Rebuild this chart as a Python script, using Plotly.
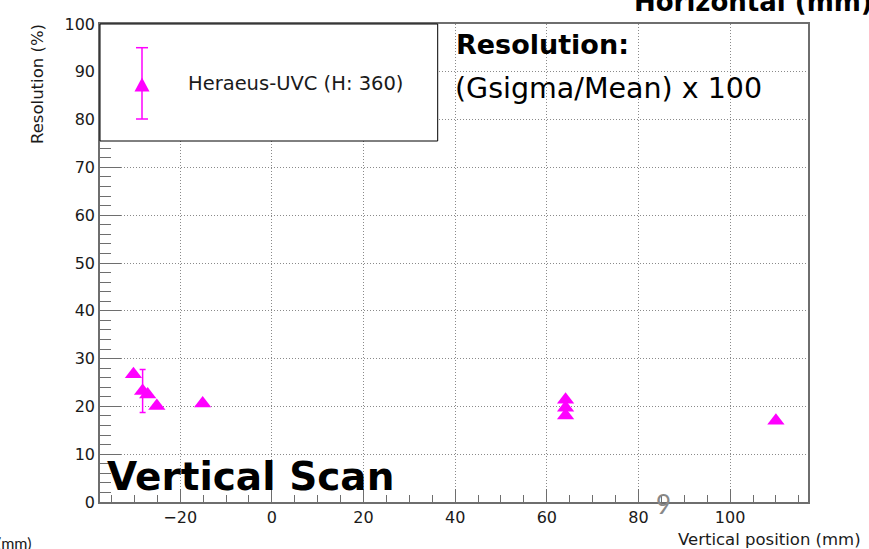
import plotly.graph_objects as go

# ---- data ----
vertical_position_mm = [-30.2, -28.2, -27.1, -25.1, -15.1, 64.1, 64.1, 64.1, 110.0]
resolution_pct = [26.7, 23.2, 22.5, 20.1, 20.6, 21.4, 19.7, 18.1, 17.0]
resolution_err = [0.0, 4.5, 0.0, 0.0, 0.0, 0.0, 0.0, 0.0, 0.0]
series_name = "Heraeus-UVC (H: 360)"
x_range = [-37.5, 117.0]
y_range = [0, 100]

W, H = 869, 549
L, R, T, B = 100, 61, 24, 47
PW, PH = W - L - R, H - T - B

def px(x):
    return (x - L) / PW

def py(y):
    return (H - B - y) / PH

MAG = "#ff00ff"
AX = "#6e6e6e"
TXT = "#1a1a1a"

fig = go.Figure()
fig.add_trace(go.Scatter(
    x=vertical_position_mm, y=resolution_pct, mode="markers", name=series_name,
    marker=dict(symbol="triangle-up", size=15, color=MAG, line=dict(width=0)),
    error_y=dict(type="data", array=resolution_err, visible=True, color=MAG,
                 thickness=1.5, width=3),
    showlegend=False,
))

axis_common = dict(
    showline=True, linecolor=AX, linewidth=1.6, mirror=True,
    ticks="inside", tickcolor=AX, tickwidth=1.4,
    showgrid=True, gridcolor="#8a8a8a", griddash="1px,2px", gridwidth=1,
    zeroline=False, tickfont=dict(family="DejaVu Sans", size=16, color=TXT),
)
fig.update_xaxes(range=x_range, dtick=20, tick0=0, ticklen=13,
                 minor=dict(dtick=5, tick0=0, ticklen=7, ticks="inside",
                            tickcolor=AX, showgrid=False),
                 **axis_common)
fig.update_yaxes(range=y_range, dtick=10, tick0=0, ticklen=21,
                 minor=dict(dtick=2, tick0=0, ticklen=11, ticks="inside",
                            tickcolor=AX, showgrid=False),
                 **axis_common)

shapes = []
# legend box
shapes.append(dict(type="rect", xref="paper", yref="paper", layer="above",
                   x0=px(100), x1=px(437.7), y0=py(141), y1=py(24),
                   fillcolor="white", line=dict(color="black", width=1)))
# legend marker error bar
lx, ltop, lbot = 142, 47.7, 119
shapes.append(dict(type="line", xref="paper", yref="paper", layer="above",
                   x0=px(lx), x1=px(lx), y0=py(lbot), y1=py(ltop),
                   line=dict(color=MAG, width=1.5)))
for yy in (ltop, lbot):
    shapes.append(dict(type="line", xref="paper", yref="paper", layer="above",
                       x0=px(lx - 6), x1=px(lx + 6), y0=py(yy), y1=py(yy),
                       line=dict(color=MAG, width=1.5)))
# legend marker triangle
cy = 85
tri = "M {a},{b} L {c},{b} L {d},{e} Z".format(
    a=px(lx - 7.5), c=px(lx + 7.5), b=py(cy + 6.5), d=px(lx), e=py(cy - 7.5))
shapes.append(dict(type="path", xref="paper", yref="paper", layer="above",
                   path=tri, fillcolor=MAG, line=dict(color=MAG, width=0)))
fig.update_layout(shapes=shapes)

ann = []
def add_text(text, x, y, xanchor, size, family="DejaVu Sans", color=TXT,
             bold=False, angle=0, yanchor="middle"):
    t = "<b>" + text + "</b>" if bold else text
    ann.append(dict(text=t, x=px(x), y=py(y), xref="paper", yref="paper",
                    xanchor=xanchor, yanchor=yanchor, showarrow=False,
                    textangle=angle, font=dict(family=family, size=size, color=color)))

add_text(series_name, 186, 83, "left", 19.5)
add_text("Resolution (%)", 37, 84, "center", 16.5, angle=-90)
add_text("Vertical position (mm)", 863, 539, "right", 16.5)
add_text("(mm)", 33, 542, "right", 16, family="Lato")
add_text("Horizontal (mm)", 632, 2, "left", 26, bold=True, color="black")
add_text("Resolution:", 454, 45, "left", 27, bold=True, color="black")
add_text("(Gsigma/Mean) x 100", 453, 88, "left", 28.5, color="black")
add_text("Vertical Scan", 105, 476, "left", 39, bold=True, color="black")
add_text("9", 663, 504, "center", 26, family="Lato", color="#888888")
fig.update_layout(annotations=ann)

fig.update_layout(
    width=W, height=H, margin=dict(l=L, r=R, t=T, b=B),
    paper_bgcolor="white", plot_bgcolor="white", showlegend=False,
)
fig.write_html("out.html", config={"displayModeBar": False},
               post_script="document.body.style.margin='0px';")
